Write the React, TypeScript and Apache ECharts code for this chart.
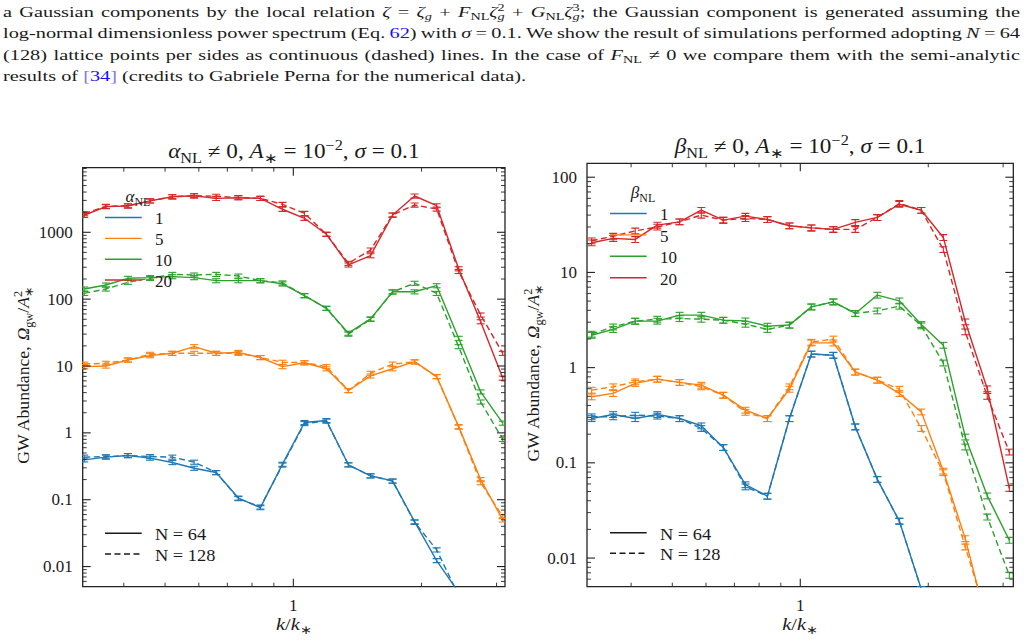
import React, { useEffect, useRef } from 'react';
import * as echarts from 'echarts';

// ---- data -------------------------------------------------------------
// wavenumbers k/k* of the spectrum bins (shared by both panels)
const K = [0.323, 0.363, 0.409, 0.461, 0.52, 0.585, 0.659, 0.743, 0.837, 0.943, 1.062, 1.196, 1.347, 1.518, 1.71, 1.926, 2.17, 2.444, 2.753, 3.102];

const LEVELS = ['1', '5', '10', '20'];
const COLORS = ['#1f77b4', '#ff7f0e', '#2ca02c', '#d62728'];

// alpha_NL != 0 panel, N = 64 (solid) and N = 128 (dashed)
const ALPHA_N64_1 = [0.395, 0.434, 0.458, 0.419, 0.36, 0.296, 0.255, 0.106, 0.076, 0.34, 1.43, 1.53, 0.333, 0.228, 0.191, 0.047, 0.0123, 0.0041, null, null];
const ALPHA_N128_1 = [0.434, 0.44, 0.458, 0.443, 0.434, 0.365, 0.255, 0.104, 0.078, 0.33, 1.38, 1.5, 0.333, 0.228, 0.19, 0.046, 0.0178, 0.0037, null, null];
const ALPHA_N64_5 = [9.8, 10.0, 12.3, 14.3, 15.5, 19.5, 15.5, 16, 13.4, 9.8, 11.2, 9.1, 4.3, 7.1, 9.1, 11.6, 6.95, 1.24, 0.2, 0.05];
const ALPHA_N128_5 = [10.7, 11.0, 12.3, 15, 15.5, 15.5, 15.5, 15.5, 13.4, 11.4, 11.2, 9.8, 4.3, 7.8, 10.7, 11.5, 6.95, 1.22, 0.18, 0.056];
const ALPHA_N64_10 = [142, 163, 205, 210, 217, 210, 189, 189, 189, 169, 113, 73, 31, 50.6, 129, 129, 159, 26, 4.1, 1.4];
const ALPHA_N128_10 = [122, 142, 179, 205, 235, 230, 235, 222, 189, 175, 113, 73, 30, 50, 128, 173, 122, 19.5, 2.9, 0.8];
const ALPHA_N64_20 = [1800, 2420, 2470, 2950, 3400, 3520, 3220, 3290, 3220, 2210, 1620, 933, 325, 447, 1815, 3490, 2500, 285, 46, 6.6];
const ALPHA_N128_20 = [1900, 2450, 2500, 2950, 3400, 3520, 3470, 3300, 3220, 2620, 1920, 933, 344, 543, 1815, 2560, 2230, 260, 58, 15.5];

// beta_NL != 0 panel
const BETA_N64_1 = [0.292, 0.322, 0.292, 0.322, 0.292, 0.245, 0.145, 0.059, 0.0447, 0.292, 1.39, 1.35, 0.239, 0.067, 0.0244, 0.0047, null, null, null, null];
const BETA_N128_1 = [0.305, 0.305, 0.317, 0.31, 0.292, 0.23, 0.145, 0.056, 0.0447, 0.292, 1.39, 1.35, 0.239, 0.067, 0.0244, 0.0047, null, null, null, null];
const BETA_N64_5 = [0.494, 0.536, 0.683, 0.757, 0.7, 0.655, 0.514, 0.358, 0.292, 0.594, 1.82, 1.82, 0.9, 0.74, 0.536, 0.343, 0.082, 0.016, 0.002, null];
const BETA_N128_5 = [0.58, 0.63, 0.71, 0.757, 0.7, 0.63, 0.514, 0.34, 0.292, 0.63, 1.85, 2.0, 0.9, 0.74, 0.594, 0.23, 0.079, 0.0131, 0.0023, null];
const BETA_N64_10 = [2.19, 2.52, 3.08, 3.08, 3.56, 3.56, 3.15, 3.1, 2.73, 2.8, 4.35, 4.91, 3.71, 5.78, 5.03, 2.84, 1.72, 0.187, 0.045, 0.0154];
const BETA_N128_10 = [2.25, 2.68, 3.08, 3.23, 3.28, 3.23, 3.15, 2.86, 2.52, 2.8, 4.35, 4.91, 3.71, 3.95, 4.43, 2.75, 1.12, 0.147, 0.027, 0.0066];
const BETA_N64_20 = [20.5, 22.8, 22.2, 31.4, 34, 45, 35.4, 39, 36, 30.9, 29.4, 28.3, 33.5, 37.8, 52, 45, 23.3, 3.03, 0.6, 0.054];
const BETA_N128_20 = [21.5, 24, 27.3, 30, 34, 40, 35.4, 36.9, 36, 30.9, 29.4, 28.3, 28.3, 37.8, 53, 45, 17.4, 2.38, 0.5, 0.13];

// relative statistical uncertainty drawn as error bars
const REL_ERR = 0.07;

// axis tick values
const X_MAJOR = [1];
const X_MINOR = [0.4, 0.5, 0.6, 0.7, 0.8, 0.9, 2, 3];
const Y_MAJOR_ALPHA = [0.01, 0.1, 1, 10, 100, 1000];
const Y_MAJOR_BETA = [0.01, 0.1, 1, 10, 100];

const CAPTION = [
  'a Gaussian components by the local relation {i:ζ} = {i:ζ}{t:g} + {i:F}{s:NL}{i:ζ}{t:g}{p:2} + {i:G}{s:NL}{i:ζ}{t:g}{p:3}; the Gaussian component is generated assuming the',
  'log-normal dimensionless power spectrum (Eq. {b:62}) with {i:σ} = 0.1. We show the result of simulations performed adopting {i:N} = 64',
  '(128) lattice points per sides as continuous (dashed) lines. In the case of {i:F}{s:NL} ≠ 0 we compare them with the semi-analytic',
  'results of {c:[}{b:34}{c:]} (credits to Gabriele Perna for the numerical data).',
];

// ---- panels -----------------------------------------------------------
const PANELS = [
  {
    title: '{i:α}{s:NL} ≠ 0, {i:A}{s:∗} = 10{p:−2}, {i:σ} = 0.1',
    legendTitle: '{i:α}{s:NL}',
    n64: [ALPHA_N64_1, ALPHA_N64_5, ALPHA_N64_10, ALPHA_N64_20],
    n128: [ALPHA_N128_1, ALPHA_N128_5, ALPHA_N128_10, ALPHA_N128_20],
    yMajor: Y_MAJOR_ALPHA,
    grid: { left: 82.7, top: 167.7, width: 422.3, height: 419 },
    xRange: [0.3203, 3.14],
    yRange: [0.005, 9250],
    titleY: 158,
    legTitle: { x: 138, y: 202 },
    legX: 105,
    legRows: [217.5, 238.4, 259.2, 280],
    nRows: [533.3, 554],
    yLabelX: 29,
  },
  {
    title: '{i:β}{s:NL} ≠ 0, {i:A}{s:∗} = 10{p:−2}, {i:σ} = 0.1',
    legendTitle: '{i:β}{s:NL}',
    n64: [BETA_N64_1, BETA_N64_5, BETA_N64_10, BETA_N64_20],
    n128: [BETA_N128_1, BETA_N128_5, BETA_N128_10, BETA_N128_20],
    yMajor: Y_MAJOR_BETA,
    grid: { left: 587, top: 163.3, width: 426.3, height: 423.4 },
    xRange: [0.315, 3.17],
    yRange: [0.005, 140],
    titleY: 153,
    legTitle: { x: 643, y: 198 },
    legX: 610,
    legRows: [213.5, 234.9, 256.3, 277.7],
    nRows: [532.7, 553.3],
    yLabelX: 539,
  },
];

// ---- text helpers -------------------------------------------------------
const FONT = 'Liberation Serif';
const INK = '#1a1a1a';
let ctx: CanvasRenderingContext2D | null = null;
function measure(text: string, size: number, italic: boolean): number {
  if (!ctx) ctx = document.createElement('canvas').getContext('2d');
  ctx!.font = `${italic ? 'italic ' : ''}${size}px "${FONT}"`;
  return ctx!.measureText(text).width;
}

type Part = { text: string; kind: string };
function parse(src: string): Part[] {
  const out: Part[] = [];
  const re = /\{([a-z]):([^}]*)\}|([^{]+)/g;
  let m: RegExpExecArray | null;
  while ((m = re.exec(src))) {
    if (m[3] !== undefined) out.push({ text: m[3], kind: 'n' });
    else out.push({ text: m[2], kind: m[1] });
  }
  return out;
}

function layout(src: string, fs: number) {
  const items: any[] = [];
  let x = 0;
  let subStart = -1;
  let subW = 0;
  for (const p of parse(src)) {
    const isSub = p.kind === 's' || p.kind === 't';
    const small = isSub || p.kind === 'p';
    const size = small ? fs * 0.7 : fs;
    const italic = p.kind === 'i' || p.kind === 't';
    const w = measure(p.text, size, italic);
    let px = x;
    if (p.kind === 'p' && subStart >= 0) {
      px = subStart;
      x = subStart + Math.max(subW, w);
    } else {
      x += w;
    }
    const dy = isSub ? fs * 0.24 : p.kind === 'p' ? -fs * 0.4 : 0;
    const color = p.kind === 'b' ? '#1010f0' : p.kind === 'c' ? '#7b7bd6' : INK;
    items.push({ text: p.text, x: px, dy, size, italic, color });
    if (isSub) {
      subStart = px;
      subW = w;
    } else {
      subStart = -1;
    }
  }
  return { items, width: x };
}

function textEls(src: string, fs: number, shift: number) {
  const { items } = layout(src, fs);
  return items.map((it: any) => ({
    type: 'text',
    x: it.x + shift,
    y: it.dy - it.size * 0.33,
    z: 100,
    silent: true,
    style: {
      text: it.text,
      fontFamily: FONT,
      fontSize: it.size,
      fontStyle: it.italic ? 'italic' : 'normal',
      fill: it.color,
      align: 'left',
      verticalAlign: 'middle',
      textAlign: 'left',
      textVerticalAlign: 'middle',
    },
  }));
}

function textGroup(src: string, fs: number, x: number, baseline: number, align = 'left', rotation = 0, sx = 1) {
  const w = layout(src, fs).width;
  const shift = align === 'center' ? -w / 2 : align === 'right' ? -w : 0;
  return { type: 'group', x, y: baseline, rotation, scaleX: sx, z: 100, silent: true, children: textEls(src, fs, shift) };
}

// justified caption paragraph
function captionEls() {
  const fs = 15;
  const left = 3;
  const right = 1020;
  const space = measure(' ', fs, false);
  const lastWords = CAPTION[CAPTION.length - 1].split(' ');
  const lastNatural = lastWords.reduce((s, w) => s + layout(w, fs).width, 0) + space * (lastWords.length - 1);
  const sx = 523 / lastNatural;
  const baselines = [17, 38.4, 59.8, 81.2];
  return CAPTION.map((line, li) => {
    const words = line.split(' ');
    const widths = words.map((w) => layout(w, fs).width);
    const total = widths.reduce((a, b) => a + b, 0);
    const justify = li < CAPTION.length - 1;
    const gap = justify ? ((right - left) / sx - total) / (words.length - 1) : space;
    let acc = 0;
    const children = words.map((w, i) => {
      const g = { type: 'group', x: acc, y: 0, z: 100, silent: true, children: textEls(w, fs, 0) };
      acc += widths[i] + gap;
      return g;
    });
    return { type: 'group', x: left, y: baselines[li], scaleX: sx, z: 100, silent: true, children };
  });
}

// ---- series renderers ---------------------------------------------------
function errRender(color: string) {
  return (params: any, api: any) => {
    const k = api.value(0);
    const v = api.value(1);
    if (!isFinite(v) || v <= 0) return null;
    const top = api.coord([k, v * (1 + REL_ERR)]);
    const bot = api.coord([k, v * (1 - REL_ERR)]);
    const x = top[0];
    const cap = 4;
    const st = { stroke: color, lineWidth: 1.1 };
    return {
      type: 'group',
      children: [
        { type: 'line', shape: { x1: x, y1: top[1], x2: x, y2: bot[1] }, style: st },
        { type: 'line', shape: { x1: x - cap, y1: top[1], x2: x + cap, y2: top[1] }, style: st },
        { type: 'line', shape: { x1: x - cap, y1: bot[1], x2: x + cap, y2: bot[1] }, style: st },
      ],
    };
  };
}

function xTickRender(params: any, api: any) {
  const cs = params.coordSys;
  const px = api.coord([api.value(0), api.value(1)])[0];
  const major = api.value(2) === 1;
  const len = major ? 8 : 4;
  const st = { stroke: '#222', lineWidth: major ? 1.1 : 0.9 };
  const b = cs.y + cs.height;
  return {
    type: 'group',
    children: [
      { type: 'line', shape: { x1: px, y1: b, x2: px, y2: b - len }, style: st },
      { type: 'line', shape: { x1: px, y1: cs.y, x2: px, y2: cs.y + len }, style: st },
    ],
  };
}

function yTickRender(params: any, api: any) {
  const cs = params.coordSys;
  const py = api.coord([api.value(0), api.value(1)])[1];
  const major = api.value(2) === 1;
  const len = major ? 8 : 4;
  const st = { stroke: '#222', lineWidth: major ? 1.1 : 0.9 };
  const r = cs.x + cs.width;
  return {
    type: 'group',
    children: [
      { type: 'line', shape: { x1: cs.x, y1: py, x2: cs.x + len, y2: py }, style: st },
      { type: 'line', shape: { x1: r, y1: py, x2: r - len, y2: py }, style: st },
    ],
  };
}

function minorDecadeTicks(lo: number, hi: number) {
  const out: number[] = [];
  for (let e = -4; e <= 4; e++) {
    for (let m = 2; m <= 9; m++) {
      const v = m * Math.pow(10, e);
      if (v > lo * 1.001 && v < hi * 0.999) out.push(v);
    }
  }
  return out;
}

function powLabel(v: number) {
  const l = Math.log10(v);
  if (Math.abs(l - Math.round(l)) > 1e-6) return '';
  const r = Math.pow(10, Math.round(l));
  return r >= 1 ? String(Math.round(r)) : String(+r.toPrecision(1));
}

function buildOption() {
  const grid: any[] = [];
  const xAxis: any[] = [];
  const yAxis: any[] = [];
  const series: any[] = [];
  const graphics: any[] = [...captionEls()];
  const labelStyle = { fontFamily: FONT, fontSize: 17, color: INK, formatter: powLabel, showMinLabel: false, showMaxLabel: false };

  PANELS.forEach((p, pi) => {
    grid.push({ ...p.grid, show: true, borderColor: '#222', borderWidth: 1.3, backgroundColor: 'transparent', containLabel: false });
    xAxis.push({
      gridIndex: pi, type: 'log', logBase: 10, min: p.xRange[0], max: p.xRange[1],
      axisLine: { show: false }, axisTick: { show: false }, splitLine: { show: false },
      axisLabel: { ...labelStyle, margin: 10 },
    });
    yAxis.push({
      gridIndex: pi, type: 'log', logBase: 10, min: p.yRange[0], max: p.yRange[1],
      axisLine: { show: false }, axisTick: { show: false }, splitLine: { show: false },
      axisLabel: { ...labelStyle, margin: 10 },
    });

    COLORS.forEach((color, ci) => {
      [p.n64[ci], p.n128[ci]].forEach((vals, di) => {
        const data = K.map((k, i) => [k, vals[i]]);
        series.push({
          type: 'line', xAxisIndex: pi, yAxisIndex: pi, data, showSymbol: false, symbol: 'none',
          clip: true, silent: true, connectNulls: false,
          lineStyle: { color, width: 1.4, type: di === 0 ? 'solid' : [6, 3.5] },
        });
        series.push({
          type: 'custom', xAxisIndex: pi, yAxisIndex: pi, data, clip: true, silent: true,
          renderItem: errRender(color),
        });
      });
    });

    const xt = [...X_MAJOR.map((v) => [v, p.yRange[0], 1]), ...X_MINOR.map((v) => [v, p.yRange[0], 0])];
    const yt = [...p.yMajor.map((v) => [p.xRange[0], v, 1]), ...minorDecadeTicks(p.yRange[0], p.yRange[1]).map((v) => [p.xRange[0], v, 0])];
    series.push({ type: 'custom', xAxisIndex: pi, yAxisIndex: pi, data: xt, clip: false, silent: true, renderItem: xTickRender, z: 5 });
    series.push({ type: 'custom', xAxisIndex: pi, yAxisIndex: pi, data: yt, clip: false, silent: true, renderItem: yTickRender, z: 5 });

    const cx = p.grid.left + p.grid.width / 2;
    const cy = p.grid.top + p.grid.height / 2;
    graphics.push(textGroup(p.title, 20, cx, p.titleY, 'center', 0, 1.16));
    graphics.push(textGroup('{i:k}/{i:k}{s:∗}', 17, cx, 630, 'center', 0, 1.2));
    graphics.push(textGroup('GW Abundance, {i:Ω}{s:gw}/{i:A}{s:∗}{p:2}', 17, p.yLabelX, cy - 2, 'center', Math.PI / 2, 1.04));

    // legend: parameter values
    graphics.push(textGroup(p.legendTitle, 17, p.legTitle.x, p.legTitle.y, 'center'));
    LEVELS.forEach((lab, i) => {
      const y = p.legRows[i];
      graphics.push({ type: 'line', z: 100, silent: true, shape: { x1: p.legX, y1: y, x2: p.legX + 36.7, y2: y }, style: { stroke: COLORS[i], lineWidth: 1.4 } });
      graphics.push(textGroup(lab, 17, p.legX + 50, y + 7, 'left'));
    });
    // legend: lattice size
    ['N = 64', 'N = 128'].forEach((lab, i) => {
      const y = p.nRows[i];
      graphics.push({
        type: 'line', z: 100, silent: true, shape: { x1: p.legX, y1: y, x2: p.legX + 36.7, y2: y },
        style: { stroke: INK, lineWidth: 1.4, lineDash: i === 0 ? null : [6, 3.5] },
      });
      graphics.push(textGroup(lab, 17, p.legX + 50, y + 7, 'left', 0, 1.08));
    });
  });

  return { animation: false, backgroundColor: '#fff', grid, xAxis, yAxis, series, graphic: { elements: graphics } };
}

export default function App() {
  const ref = useRef<HTMLDivElement>(null);
  useEffect(() => {
    const chart = echarts.init(ref.current!, undefined, { renderer: 'svg' });
    chart.setOption(buildOption() as any);
    return () => chart.dispose();
  }, []);
  return <div ref={ref} style={{ position: 'fixed', left: 0, top: 0, width: 1028, height: 641, background: '#fff' }} />;
}
